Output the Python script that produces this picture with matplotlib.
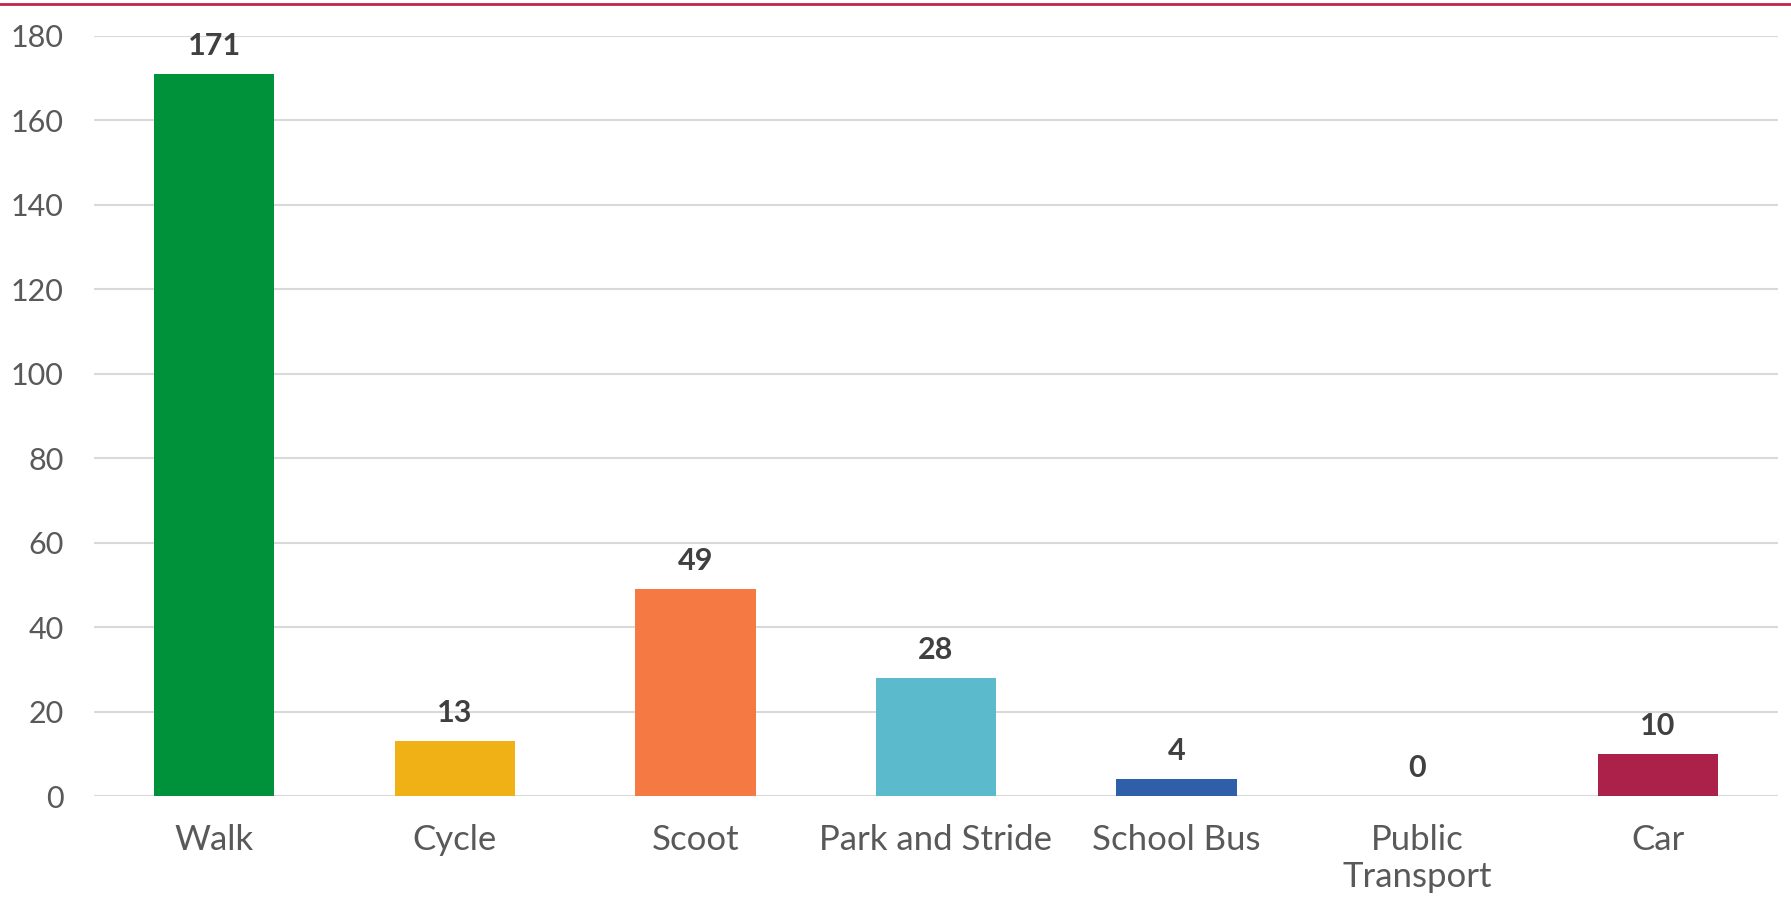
import matplotlib
matplotlib.use("Agg")
import matplotlib.pyplot as plt
from matplotlib.lines import Line2D

# 通学手段ごとの人数
categories = ["Walk", "Cycle", "Scoot", "Park and Stride", "School Bus", "Public\nTransport", "Car"]
counts = [171, 13, 49, 28, 4, 0, 10]
bar_colors = ["#00923A", "#F0B117", "#F47942", "#5BBACB", "#2F5FA8", "#8E8E8E", "#AB214A"]
y_ticks = [0, 20, 40, 60, 80, 100, 120, 140, 160, 180]

plt.rcParams['font.family'] = ['Lato', 'DejaVu Sans']

fig = plt.figure(figsize=(17.91, 9.08), dpi=100)
ax = fig.add_axes([0.0525, 0.1233, 0.9402, 0.8371])

x = range(len(categories))
bars = ax.bar(x, counts, width=0.5, color=bar_colors, zorder=3)

# データラベル
for rect, val in zip(bars, counts):
    ax.annotate(str(val), (rect.get_x() + rect.get_width() / 2, rect.get_height()),
                xytext=(0, 10), textcoords="offset points", ha="center", va="bottom",
                fontsize=22, fontweight="bold", color="#404040", zorder=4)

ax.set_xlim(-0.5, len(categories) - 0.5)
ax.set_ylim(0, 180)
ax.set_yticks(y_ticks)
ax.set_xticks(list(x))
ax.set_xticklabels(categories, linespacing=1.18, fontsize=25)

ax.tick_params(axis="both", length=0, labelcolor="#595959")
ax.tick_params(axis="y", pad=22, labelsize=22)
ax.tick_params(axis="x", pad=20)

ax.grid(axis="y", color="#D9D9D9", linewidth=1.5, zorder=0)
ax.set_axisbelow(True)
for side in ["top", "right", "left", "bottom"]:
    ax.spines[side].set_visible(False)

# 上部の赤いライン
fig.add_artist(Line2D([0, 1], [0.9955, 0.9955], transform=fig.transFigure,
                      color="#C0264D", linewidth=2))

fig.savefig("out.png", dpi=100)
